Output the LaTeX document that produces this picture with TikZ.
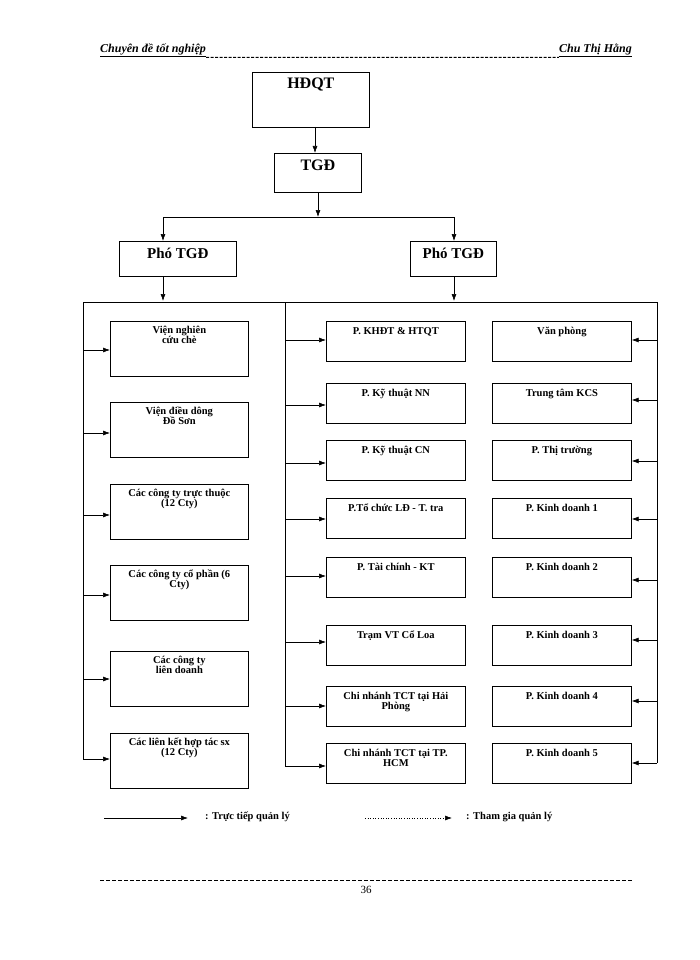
\documentclass[tikz,border=0pt]{standalone}
\usepackage{fontspec}
\setmainfont{Liberation Serif}
\usetikzlibrary{arrows.meta}
\begin{document}
\begin{tikzpicture}[x=1pt,y=-1pt,
  box/.style={draw,line width=0.7pt,inner sep=0pt,anchor=north west},
  lbl/.style={anchor=north,inner sep=0pt,align=center,font=\fontsize{10.5}{10}\selectfont\bfseries},
  big/.style={anchor=north,inner sep=0pt,font=\fontsize{16}{16}\selectfont\bfseries},
  ar/.style={-{Latex[length=7pt,width=5pt]},line width=0.6pt},
  ln/.style={line width=0.6pt}]
\useasboundingbox (0,0) rectangle (700,960);
% header
\node[anchor=west,inner sep=0pt,font=\fontsize{12}{12}\selectfont\bfseries\itshape] (h1) at (100,50) {\underline{Chuyên đề tốt nghiệp}};
\node[anchor=east,inner sep=0pt,font=\fontsize{12}{12}\selectfont\bfseries\itshape] (h2) at (632,50) {\underline{Chu Thị Hằng}};
\draw[line width=0.9pt,dash pattern=on 3pt off 1.5pt] ([yshift=-0.5pt]h1.south east) -- ([yshift=-0.5pt]h2.south west);
% top
\node[box,minimum width=117,minimum height=55] (hd) at (252,72) {};
\node[big] at ([yshift=-6pt]hd.north) {HĐQT};
\node[box,minimum width=87,minimum height=39] (tg) at (274,153) {};
\node[big] at ([yshift=-7pt]tg.north) {TGĐ};
\node[box,minimum width=117,minimum height=35] (p1) at (119,241) {};
\node[big,font=\fontsize{15}{15}\selectfont\bfseries] at ([yshift=-7pt]p1.north) {Phó TGĐ};
\node[box,minimum width=86,minimum height=35] (p2) at (410,241) {};
\node[big,font=\fontsize{15}{15}\selectfont\bfseries] at ([yshift=-7pt]p2.north) {Phó TGĐ};
\draw[ar] (315,127) -- (315,153);
\coordinate (j) at (318,217);
\draw[ar] (318,192) -- (j);
\draw[ln] (163,217) -- (454,217);
\draw[ar] (163,217) -- (163,241);
\draw[ar] (454,217) -- (454,241);
\coordinate (b1) at (163,301);
\coordinate (b2) at (454,301);
\draw[ar] (163,276) -- (b1);
\draw[ar] (454,276) -- (b2);
\draw[ln] (83,302) -- (657,302);
\draw[ln] (83,302) -- (83,760);
\draw[ln] (285,302) -- (285,766);
\draw[ln] (657,302) -- (657,763);
% left boxes
\foreach \y/\a/\t [count=\i] in {321/350/{Viện nghiên\\cứu chè},402/433/{Viện điều dông\\Đồ Sơn},484/515/{Các công ty trực thuộc\\(12 Cty)},565/595/{Các công ty cổ phần (6\\Cty)},651/679/{Các công ty\\liên doanh},733/759/{Các liên kết hợp tác sx\\(12 Cty)}}{
  \node[box,minimum width=138,minimum height=55] (L\i) at (110,\y) {};
  \node[lbl] at ([yshift=-5pt]L\i.north) {\t};
  \draw[ar] (83,\a) -- (L\i.west |- 0,\a);
}
% middle boxes
\foreach \y/\a/\t [count=\i] in {321/340/{P. KHĐT \& HTQT},383/405/{P. Kỹ thuật NN},440/463/{P. Kỹ thuật CN},498/519/{P.Tổ chức LĐ - T. tra},557/576/{P. Tài chính - KT},625/642/{Trạm VT Cổ Loa},686/706/{Chi nhánh TCT tại Hải\\Phòng},743/766/{Chi nhánh TCT tại TP.\\HCM}}{
  \node[box,minimum width=139,minimum height=40] (M\i) at (326,\y) {};
  \node[lbl] at ([yshift=-6pt]M\i.north) {\t};
  \draw[ar] (285,\a) -- (M\i.west |- 0,\a);
}
% right boxes
\foreach \y/\a/\t [count=\i] in {321/340/{Văn phòng},383/400/{Trung tâm KCS},440/461/{P. Thị trường},498/519/{P. Kinh doanh 1},557/580/{P. Kinh doanh 2},625/640/{P. Kinh doanh 3},686/701/{P. Kinh doanh 4},743/763/{P. Kinh doanh 5}}{
  \node[box,minimum width=139,minimum height=40] (R\i) at (492,\y) {};
  \node[lbl] at ([yshift=-6pt]R\i.north) {\t};
  \draw[ar] (657,\a) -- (R\i.east |- 0,\a);
}
% legend
\coordinate (la) at (104,818); \coordinate (lb) at (188,818);
\coordinate (lc) at (365,818); \coordinate (ld) at (452,818);
\draw[ar] (la) -- (lb);
\draw[ar,dotted] (lc) -- (ld);
\node[anchor=west,inner sep=0pt,font=\fontsize{10.5}{10}\selectfont\bfseries] (t1) at (205,817) {: Trực tiếp quản lý};
\node[anchor=west,inner sep=0pt,font=\fontsize{10.5}{10}\selectfont\bfseries] (t2) at (466,817) {: Tham gia quản lý};
% footer
\draw[line width=0.9pt,dash pattern=on 4pt off 2pt] (100,880) -- (632,880);
\node[inner sep=0pt,font=\fontsize{11}{11}\selectfont] (pg) at (366,890) {36};
\end{tikzpicture}
\end{document}
